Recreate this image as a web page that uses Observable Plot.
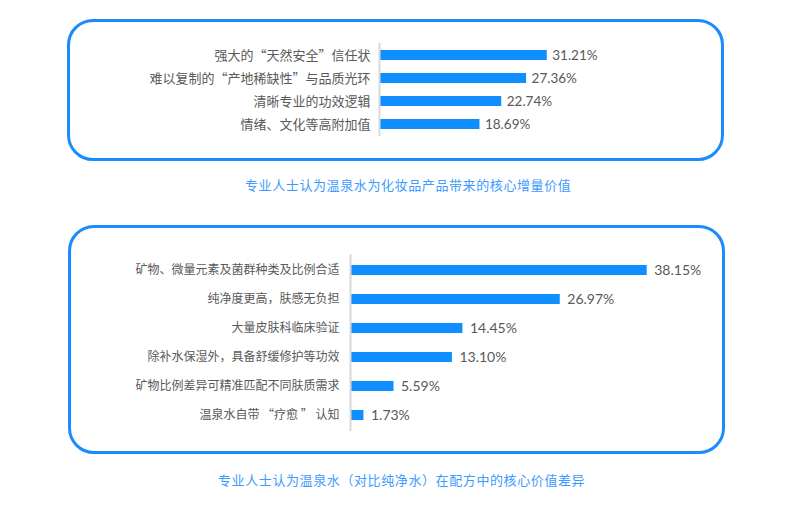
<!DOCTYPE html>
<html>
<head>
<meta charset="utf-8">
<script src="https://cdn.jsdelivr.net/npm/d3@7"></script>
<script src="https://cdn.jsdelivr.net/npm/@observablehq/plot@0.6"></script>
<style>
  html, body { margin: 0; padding: 0; background: #ffffff; }
  #page { position: relative; width: 785px; height: 529px; overflow: hidden; background: #fff;
          font-family: "Noto Sans CJK SC", "Noto Sans", sans-serif; }
  .box { position: absolute; box-sizing: border-box; border: 3.5px solid #1a8cff; border-radius: 26px; }
  .caption { position: absolute; white-space: nowrap; font-size: 13px; line-height: 18px;
             color: #3d9bff; letter-spacing: 0.6px; font-family: "Noto Sans CJK SC", sans-serif; }
  .chart { position: absolute; left: 0; }
  .chart svg { background: transparent !important; overflow: visible; }
</style>
</head>
<body>
<div id="page">
  <div class="box" style="left:67px; top:19px; width:657px; height:142px;"></div>
  <div class="box" style="left:68px; top:225px; width:657px; height:229px;"></div>
  <div class="chart" id="c1" style="top:0px;"></div>
  <div class="chart" id="c2" style="top:200px;"></div>
  <div class="caption" id="cap1" style="left:245px; top:176px;"></div>
  <div class="caption" id="cap2" style="left:218px; top:471px;"></div>
</div>
<script>
// ---- Chart 1 data ----
const topCategories = [
  "强大的“天然安全”信任状",
  "难以复制的“产地稀缺性”与品质光环",
  "清晰专业的功效逻辑",
  "情绪、文化等高附加值"
];
const topValues = [31.21, 27.36, 22.74, 18.69];
const topCaption = "专业人士认为温泉水为化妆品产品带来的核心增量价值";

// ---- Chart 2 data ----
const bottomCategories = [
  "矿物、微量元素及菌群种类及比例合适",
  "纯净度更高，肤感无负担",
  "大量皮肤科临床验证",
  "除补水保湿外，具备舒缓修护等功效",
  "矿物比例差异可精准匹配不同肤质需求",
  "温泉水自带 “疗愈 ” 认知"
];
const bottomValues = [38.15, 26.97, 14.45, 13.10, 5.59, 1.73];
const bottomCaption = "专业人士认为温泉水（对比纯净水）在配方中的核心价值差异";

const BAR = "#0f8fff";
const AXIS = "#d9d9d9";
const TXT = "#595959";

const topData = topCategories.map((c, i) => ({cat: c, v: topValues[i]}));
const bottomData = bottomCategories.map((c, i) => ({cat: c, v: bottomValues[i]}));

const fmt = d => d.v.toFixed(2) + "%";

const chart1 = Plot.plot({
  width: 785,
  height: 170,
  marginLeft: 379,
  marginRight: 191,
  marginTop: 43,
  marginBottom: 34,
  style: {background: "transparent", overflow: "visible"},
  x: {domain: [0, 40], axis: null},
  y: {domain: topCategories, paddingInner: 0.58, paddingOuter: 0.24, label: null},
  marks: [
    Plot.barX(topData, {x: "v", y: "cat", fill: BAR}),
    Plot.ruleX([0], {stroke: AXIS, strokeWidth: 2}),
    Plot.axisY({tickSize: 0, tickPadding: 9, fontSize: 13, fill: TXT,
                fontFamily: "Noto Sans CJK SC", label: null}),
    Plot.text(topData, {x: "v", y: "cat", text: fmt, textAnchor: "start", dx: 5,
                        fontSize: 13.5, fill: TXT, fontFamily: "Lato"})
  ]
});
document.getElementById("c1").appendChild(chart1);

const chart2 = Plot.plot({
  width: 785,
  height: 260,
  marginLeft: 350,
  marginRight: 85,
  marginTop: 54,
  marginBottom: 29,
  style: {background: "transparent", overflow: "visible"},
  x: {domain: [0, 45], axis: null},
  y: {domain: bottomCategories, paddingInner: 0.644, paddingOuter: 0.322, label: null},
  marks: [
    Plot.barX(bottomData, {x: "v", y: "cat", fill: BAR}),
    Plot.ruleX([0], {stroke: AXIS, strokeWidth: 2}),
    Plot.axisY({tickSize: 0, tickPadding: 11, fontSize: 12, fill: TXT,
                fontFamily: "Noto Sans CJK SC", label: null}),
    Plot.text(bottomData, {x: "v", y: "cat", text: fmt, textAnchor: "start", dx: 7,
                           fontSize: 14, fill: TXT, fontFamily: "Lato"})
  ]
});
document.getElementById("c2").appendChild(chart2);

document.getElementById("cap1").textContent = topCaption;
document.getElementById("cap2").textContent = bottomCaption;
</script>
</body>
</html>
